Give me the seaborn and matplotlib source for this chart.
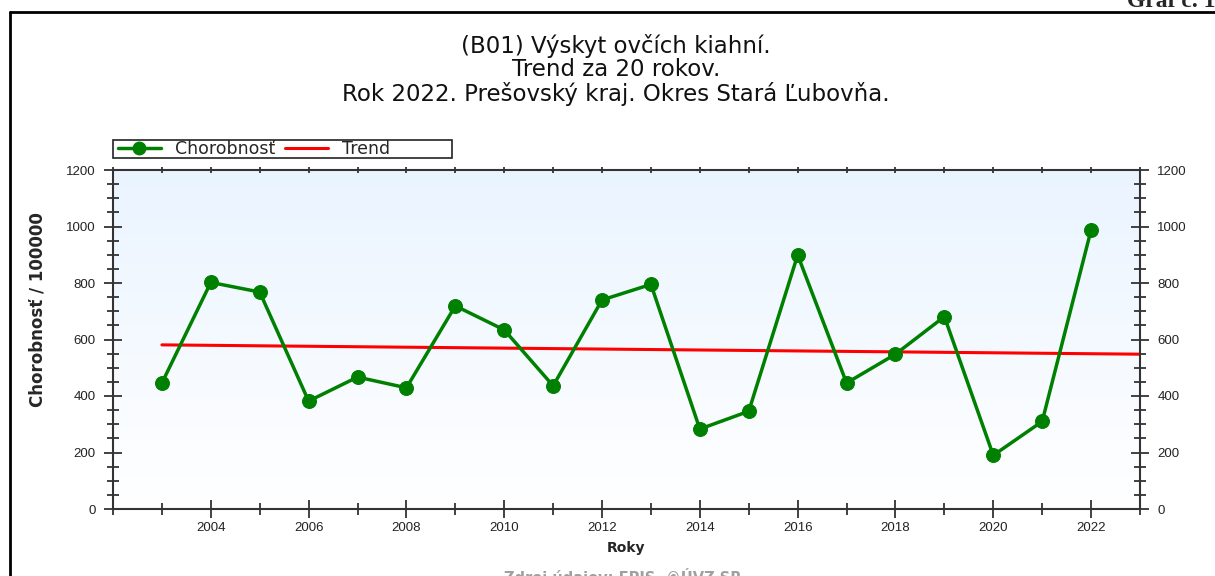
import numpy as np
import pandas as pd
import matplotlib
matplotlib.use("Agg")
import matplotlib.pyplot as plt
import seaborn as sns
from matplotlib.colors import LinearSegmentedColormap
from matplotlib.lines import Line2D
from matplotlib.patches import Rectangle
from matplotlib.ticker import MultipleLocator

# ---- data ----
years = [2003, 2004, 2005, 2006, 2007, 2008, 2009, 2010, 2011, 2012,
         2013, 2014, 2015, 2016, 2017, 2018, 2019, 2020, 2021, 2022]
morbidity = [446, 802, 768, 382, 467, 429, 719, 634, 436, 740,
             795, 283, 346, 899, 446, 548, 681, 190, 310, 988]
trend_years = [2003, 2023]
trend_values = [581, 548]

title_lines = ["(B01) Výskyt ovčích kiahní.",
               "Trend za 20 rokov.",
               "Rok 2022. Prešovský kraj. Okres Stará Ľubovňa."]
series_label = "Chorobnosť"
trend_label = "Trend"
ylabel = "Chorobnosť / 100000"
xlabel = "Roky"
source_text = "Zdroj údajov: EPIS, ©ÚVZ SR"
graf_text = "Graf č. 18"
x_major_ticks = list(range(2004, 2023, 2))

sns.set_theme(style="white")
plt.rcParams['font.family'] = ['Liberation Sans', 'DejaVu Sans']

W, H = 1215, 576
fig = plt.figure(figsize=(W / 100, H / 100), dpi=100)
fig.patch.set_facecolor("white")

ax = fig.add_axes([113 / W, 1 - 509 / H, (1140 - 113) / W, (509 - 170) / H])

# gradient background
cmap = LinearSegmentedColormap.from_list("bg", ["#ffffff", "#eaf4ff"])
grad = np.linspace(0, 1, 256).reshape(-1, 1)
ax.imshow(grad, extent=[2002, 2023, 0, 1200], origin="lower", aspect="auto",
          cmap=cmap, zorder=0)

df = pd.DataFrame({"year": years, "value": morbidity})
tdf = pd.DataFrame({"year": trend_years, "value": trend_values})

sns.lineplot(data=tdf, x="year", y="value", ax=ax, color="#ff0000",
             linewidth=2.2, zorder=2)
sns.lineplot(data=df, x="year", y="value", ax=ax, color="#008000",
             linewidth=2.5, marker="o", markersize=10, markeredgecolor="#008000",
             zorder=3)

ax.set_xlim(2002, 2023)
ax.set_ylim(0, 1200)
ax.set_xticks(x_major_ticks)
ax.xaxis.set_minor_locator(MultipleLocator(1))
ax.yaxis.set_major_locator(MultipleLocator(200))
ax.yaxis.set_minor_locator(MultipleLocator(50))

for s in ax.spines.values():
    s.set_color("#333333")
    s.set_linewidth(1.5)
    s.set_visible(True)

ax.tick_params(axis="both", which="major", direction="inout", length=13, width=1.3,
               color="#333333", labelsize=9.5, labelcolor="#222222")
ax.tick_params(axis="both", which="minor", direction="inout", length=8, width=1.3,
               color="#333333")
ax.tick_params(axis="x", which="both", top=True, bottom=True)
ax.tick_params(axis="x", which="major", pad=3)
ax.tick_params(axis="y", which="both", left=True, right=True, labelleft=True,
               labelright=True, pad=6)
for t in ax.xaxis.get_major_ticks() + ax.xaxis.get_minor_ticks():
    t.tick2line.set_markersize(5)

ax.set_xlabel(xlabel, fontsize=10, fontweight="bold", labelpad=5,
              family=["DejaVu Sans"])
ax.set_ylabel(ylabel, fontsize=12, fontweight="bold", family=["DejaVu Sans"])
ax.yaxis.set_label_coords((47 - 113) / 1027, (509 - 310) / 339)

# legend
handles = [Line2D([0], [0], color="#008000", lw=2.5, marker="o", markersize=9),
           Line2D([0], [0], color="#ff0000", lw=2.2)]
fs_leg = 12.5
px = fs_leg * 100 / 72
leg = fig.legend(handles, [series_label, trend_label], ncol=2,
                 bbox_to_anchor=(118 / W, 1 - 149.5 / H), loc="center left",
                 prop={"family": ["DejaVu Sans"], "size": fs_leg},
                 frameon=False, borderpad=0, handlelength=43 / px,
                 handletextpad=14 / px, borderaxespad=0, columnspacing=10 / px)
fig.add_artist(Rectangle((113 / W, 1 - 158 / H), (452 - 113) / W, 18 / H,
                         transform=fig.transFigure, fill=False,
                         edgecolor="#222222", lw=1.2))

# title
fig.text(616 / W, 1 - 34 / H, "\n".join(title_lines), ha="center", va="top",
         fontsize=16.5, linespacing=1.02, color="#111111",
         family=["DejaVu Sans"])

# frame
fig.add_artist(Line2D([10 / W, 10 / W], [0, 1 - 12 / H], transform=fig.transFigure,
                      color="black", lw=2))
fig.add_artist(Line2D([10 / W, 1], [1 - 12 / H, 1 - 12 / H], transform=fig.transFigure,
                      color="black", lw=2))

fig.text(1127 / W, 1 - 7 / H, graf_text, ha="left", va="baseline",
         fontsize=17, fontweight="bold", family=["Liberation Serif"])
fig.text(623 / W, 1 - 583 / H, source_text, ha="center", va="baseline",
         fontsize=10.5, fontweight="bold", color="#a0a0a0",
         family=["DejaVu Sans"])

fig.savefig("out.png", dpi=100)
